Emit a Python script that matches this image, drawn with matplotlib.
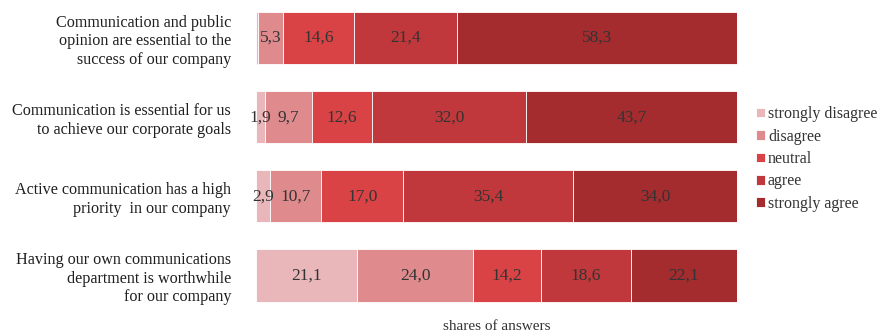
import numpy as np
import matplotlib.pyplot as plt

plt.rcParams['font.family'] = ['Liberation Serif', 'DejaVu Serif']

# statements (top to bottom)
statements = [
    "Communication and public\nopinion are essential to the\nsuccess of our company",
    "Communication is essential for us\nto achieve our corporate goals",
    "Active communication has a high\npriority  in our company",
    "Having our own communications\ndepartment is worthwhile\nfor our company",
]
answers = ["strongly disagree", "disagree", "neutral", "agree", "strongly agree"]

strongly_disagree = [0.4, 1.9, 2.9, 21.1]
disagree = [5.3, 9.7, 10.7, 24.0]
neutral = [14.6, 12.6, 17.0, 14.2]
agree = [21.4, 32.0, 35.4, 18.6]
strongly_agree = [58.3, 43.7, 34.0, 22.1]

# labels shown in the bars (first one is too thin to carry a label)
show_label = [
    [False, True, True, True],
    [True, True, True, True],
    [True, True, True, True],
    [True, True, True, True],
    [True, True, True, True],
]

colors = ["#e9b7b9", "#df8b8d", "#d94346", "#c0383b", "#a42b2e"]
series = [strongly_disagree, disagree, neutral, agree, strongly_agree]

fig = plt.figure(figsize=(8.82, 3.35), dpi=100)
ax = fig.add_axes([256 / 882, 1 - 314 / 335, (737 - 256) / 882, 314 / 335])

y = np.arange(len(statements))
left = np.zeros(len(statements))
for vals, col, name, shows in zip(series, colors, answers, show_label):
    bars = ax.barh(y, vals, left=left, height=0.66, color=col,
                   edgecolor="white", linewidth=0.6, label=name)
    for b, v, s in zip(bars, vals, shows):
        if s:
            ax.text(b.get_x() + b.get_width() / 2, b.get_y() + b.get_height() / 2,
                    f"{v:.1f}".replace(".", ","), ha="center", va="center",
                    fontsize=12.5, color="#333333")
    left += np.array(vals)

ax.set_xlim(0, 100)
ax.set_ylim(3.486, -0.48)
ax.set_yticks(y)
ax.set_yticklabels(statements, fontsize=11.6, color="#1f1f1f",
                   linespacing=1.22, ha="right")
ax.tick_params(axis="y", length=0, pad=18)
ax.set_xticks([])
for sp in ax.spines.values():
    sp.set_visible(False)

fig.text(ax.get_position().x0 + ax.get_position().width / 2, 1 - 326 / 335,
         "shares of answers", ha="center", va="center", fontsize=11, color="#333333")

ax.legend(loc="center left", bbox_to_anchor=(756 / 882, 1 - 159 / 335),
          bbox_transform=fig.transFigure, frameon=False, fontsize=11.5,
          handlelength=0.55, handleheight=0.55, handletextpad=0.2,
          labelspacing=0.4, borderpad=0, borderaxespad=0,
          labelcolor="#333333")

fig.savefig("out.png", dpi=100)
